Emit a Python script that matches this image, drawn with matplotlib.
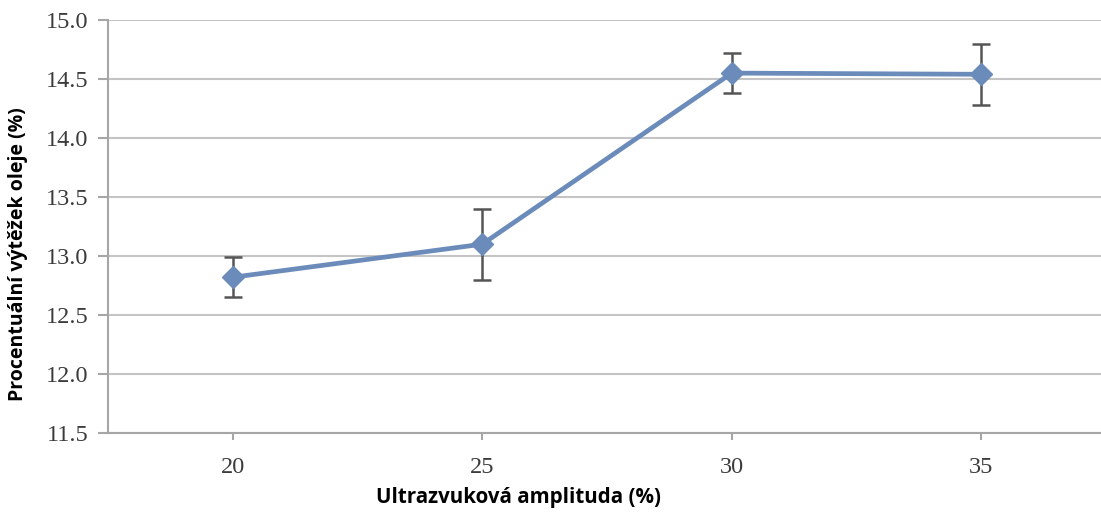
import matplotlib
matplotlib.use("Agg")
import matplotlib.pyplot as plt

categories = ["20", "25", "30", "35"]
yield_pct = [12.82, 13.10, 14.55, 14.54]
err = [0.17, 0.30, 0.17, 0.26]
y_ticks = [11.5, 12.0, 12.5, 13.0, 13.5, 14.0, 14.5, 15.0]

W, H = 1101, 517
fig = plt.figure(figsize=(W / 100, H / 100), dpi=100)
left, right, top, bottom = 108, 1106, 20, 433
ax = fig.add_axes([left / W, (H - bottom) / H, (right - left) / W, (bottom - top) / H])

x = list(range(len(categories)))
line_c = "#6b8cba"
ax.errorbar(x, yield_pct, yerr=err, color=line_c, lw=3.4, marker="D", ms=11,
            mfc=line_c, mec=line_c, ecolor="#555555", elinewidth=1.8,
            capsize=6.5, capthick=1.8, zorder=3)

ax.set_xlim(-0.5, 3.5)
ax.set_ylim(11.5, 15.0)
ax.set_xticks(x)
ax.set_xticklabels(categories)
ax.set_yticks(y_ticks)
ax.set_yticklabels([f"{v:.1f}" for v in y_ticks])

ax.grid(axis="y", color="#c4c4c4", lw=1.5)
ax.set_axisbelow(True)
for s in ["top", "right"]:
    ax.spines[s].set_visible(False)
for s in ["left", "bottom"]:
    ax.spines[s].set_color("#a6a6a6")
    ax.spines[s].set_linewidth(1.5)

ax.tick_params(axis="both", colors="#a6a6a6", width=1.5, labelcolor="#3b3b3b",
               labelsize=17.5)
ax.tick_params(axis="y", length=7, pad=7)
ax.tick_params(axis="x", length=5, pad=12)
for lab in ax.get_xticklabels() + ax.get_yticklabels():
    lab.set_fontfamily("Liberation Serif")

fig.text(518 / W, 1 - 497 / H, "Ultrazvuková amplituda (%)", ha="center", va="center",
         fontsize=14.8, fontweight="bold", family="Open Sans")
fig.text(18 / W, 1 - 254 / H, "Procentuální výtěžek oleje (%)", ha="center", va="center",
         rotation=90, fontsize=14, fontweight="bold", family="Open Sans")

fig.savefig("out.png", dpi=100)
